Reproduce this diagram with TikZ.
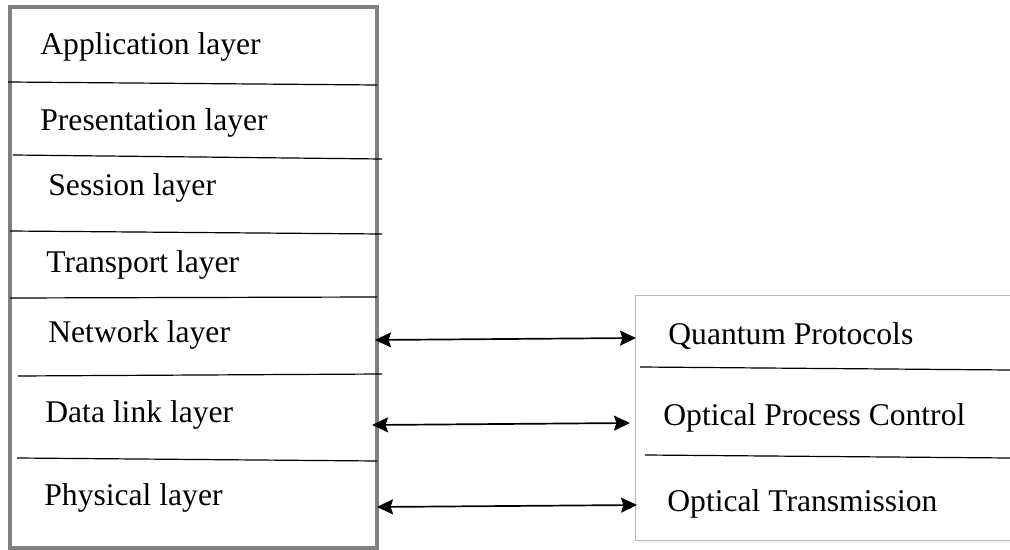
\documentclass[tikz,border=0pt]{standalone}
\usepackage{fontspec}
\setmainfont{Liberation Serif}
\usetikzlibrary{arrows.meta}
\definecolor{osigray}{RGB}{128,128,128}
\definecolor{qgray}{RGB}{185,185,185}
\tikzset{
  layer/.style={anchor=base west, inner sep=0pt, font=\fontsize{15.8}{19}\selectfont},
  divider/.style={black, line width=0.6pt},
  link/.style={<->, >={Stealth[length=8pt,width=7.5pt,inset=1.2pt]}, line width=0.85pt}
}

\begin{document}
\begin{tikzpicture}[x=0.5pt, y=-0.5pt]
				\clip (0,0) rectangle (1010,550);
				\fill[white] (0,0) rectangle (1010,550);
				\draw[osigray, line width=1.6pt] (10,7) rectangle (377,548);
				\fill[gray!12] (638,299) rectangle (1020,543);
				\draw[qgray, fill=white, line width=0.5pt] (635,296) rectangle (1020,540);
				\node[layer] (app) at (40,55) {Application layer};
				\node[layer] (pres) at (40,131) {Presentation layer};
				\node[layer] (sess) at (48,196) {Session layer};
				\node[layer] (trans) at (46,273) {Transport layer};
				\node[layer] (net) at (48,343) {Network layer};
				\node[layer] (dlink) at (45,422) {Data link layer};
				\node[layer] (phys) at (44,505) {Physical layer};
				\node[layer] (qp) at (668,344) {Quantum Protocols};
				\node[layer] (opc) at (663,425) {Optical Process Control};
				\node[layer] (ot) at (667,511) {Optical Transmission};
				\draw[divider] (8,82) -- (377,85);
				\draw[divider] (13,155) -- (382,159);
				\draw[divider] (10,231) -- (382,234);
				\draw[divider] (10,298) -- (377,297);
				\draw[divider] (18,376) -- (382,374);
				\draw[divider] (17,458) -- (377,461);
				\draw[divider] (640,367) -- (1010,370);
				\draw[divider] (645,455) -- (1010,458);
				\coordinate (netE) at (375,340);
				\coordinate (qpW) at (636,338);
				\coordinate (dlinkE) at (372,425);
				\coordinate (opcW) at (630,423);
				\coordinate (physE) at (377,507);
				\coordinate (otW) at (637,505);
				\draw[link] (netE) -- (qpW);
				\draw[link] (dlinkE) -- (opcW);
				\draw[link] (physE) -- (otW);
			\end{tikzpicture}
\end{document}
